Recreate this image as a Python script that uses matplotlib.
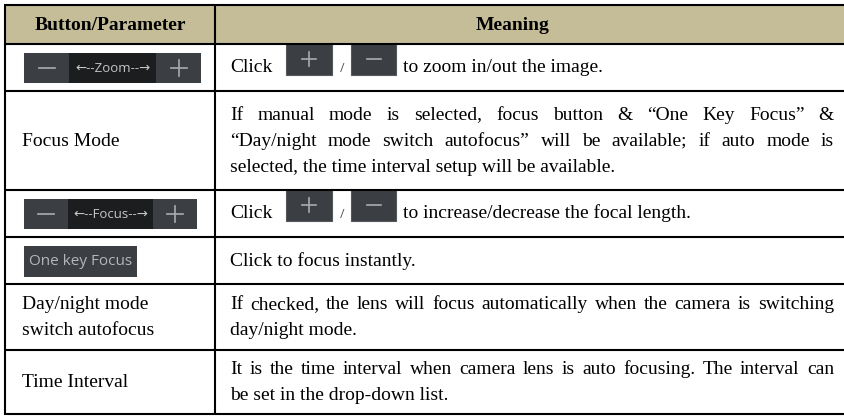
import matplotlib.pyplot as plt
from matplotlib.patches import Rectangle

# table content
headers = ["Button/Parameter", "Meaning"]
param_labels = [[], ["Focus Mode"], [], [], ["Day/night mode", "switch autofocus"], ["Time Interval"]]
widget_texts = ["\u2190--Zoom--\u2192", None, "\u2190--Focus--\u2192", "One key Focus", None, None]
click_rows = [True, False, True, False, False, False]
meaning_lines = [
    ["to zoom in/out the image."],
    ["If manual mode is selected, focus button & \u201cOne Key Focus\u201d &",
     "\u201cDay/night mode switch autofocus\u201d will be available; if auto mode is",
     "selected, the time interval setup will be available."],
    ["to increase/decrease the focal length."],
    ["Click to focus instantly."],
    ["If checked, the lens will focus automatically when the camera is switching",
     "day/night mode."],
    ["It is the time interval when camera lens is auto focusing. The interval can",
     "be set in the drop-down list."],
]

# layout (pixels)
W, H = 844, 416
row_edges = [5, 44, 91, 190, 237, 284, 350, 414]
x_left, x_mid = 5, 215
text_x0, text_x1 = 230, 834
line_gap = 26
header_fill = "#C4BD97"
dark = "#3B3F43"
darker = "#1C1D1F"
glyph = "#A9ADB1"

serif = dict(family="Liberation Serif", fontsize=14, color="black", va="baseline")
sans = ["Open Sans", "DejaVu Sans"]

fig = plt.figure(figsize=(W / 100, H / 100), dpi=100)
ax = fig.add_axes([0, 0, 1, 1])
ax.set_xlim(0, W)
ax.set_ylim(H, 0)
ax.axis("off")
renderer = fig.canvas.get_renderer()

# header background
ax.add_patch(Rectangle((x_left, row_edges[0]), W - x_left, row_edges[1] - row_edges[0],
                       facecolor=header_fill, edgecolor="none"))
ax.text(110, 30, headers[0], ha="center", fontweight="bold", **serif)
ax.text(513, 30, headers[1], ha="center", fontweight="bold", **serif)

# grid lines
for y in row_edges:
    ax.plot([x_left - 1, W], [y, y], color="black", lw=1.5, solid_capstyle="butt")
for x in (x_left, x_mid):
    ax.plot([x, x], [row_edges[0], row_edges[-1]], color="black", lw=1.5, solid_capstyle="butt")


def draw_plus(cx, cy, size=8, color=glyph):
    ax.plot([cx - size, cx + size], [cy, cy], color=color, lw=1.2)
    ax.plot([cx, cx], [cy - size, cy + size], color=color, lw=1.2)


def draw_minus(cx, cy, size=8, color=glyph):
    ax.plot([cx - size, cx + size], [cy, cy], color=color, lw=1.2)


def draw_widget(label, top, bottom, x0, x1, split):
    # split: width of the +/- side sections
    ax.add_patch(Rectangle((x0, top), x1 - x0, bottom - top, facecolor=dark, edgecolor="none"))
    ax.add_patch(Rectangle((x0 + split, top), x1 - x0 - 2 * split, bottom - top,
                           facecolor=darker, edgecolor="none"))
    cy = (top + bottom) / 2
    draw_minus(x0 + split / 2, cy)
    draw_plus(x1 - split / 2, cy)
    ax.text((x0 + x1) / 2, cy, label, ha="center", va="center", family=sans,
            fontsize=9.5, color="#C4C6C8")


def draw_small_buttons(baseline):
    top, bottom = baseline - 29, baseline + 2
    ax.add_patch(Rectangle((286, top), 46, bottom - top, facecolor=dark, edgecolor="#55595D", lw=0.8))
    draw_plus(309, (top + bottom) / 2, size=7)
    ax.text(342, baseline, "/", ha="center", family=sans, fontsize=9, color="#555555", va="baseline")
    ax.add_patch(Rectangle((351, top), 45, bottom - top, facecolor=dark, edgecolor="#55595D", lw=0.8))
    draw_minus(373.5, (top + bottom) / 2, size=7)


def draw_justified(text, y):
    words = text.split(" ")
    arts = [ax.text(0, y, w, **serif) for w in words]
    widths = [a.get_window_extent(renderer).width for a in arts]
    gap = (text_x1 - text_x0 - sum(widths)) / (len(words) - 1)
    x = text_x0
    for a, w in zip(arts, widths):
        a.set_x(x)
        x += w + gap


for i in range(len(meaning_lines)):
    top, bottom = row_edges[i + 1], row_edges[i + 2]
    mid = (top + bottom) / 2
    lines = meaning_lines[i]
    n = len(lines)
    baselines = [mid + 5 + (k - (n - 1) / 2) * line_gap for k in range(n)]

    # first column
    labels = param_labels[i]
    m = len(labels)
    for k, lab in enumerate(labels):
        ax.text(22, mid + 5 + (k - (m - 1) / 2) * line_gap, lab, ha="left", **serif)

    if widget_texts[i] is not None:
        if widget_texts[i] == "One key Focus":
            ax.add_patch(Rectangle((24, 246), 113, 31, facecolor=dark, edgecolor="none"))
            ax.text(80.5, 261.5, widget_texts[i], ha="center", va="center", family=sans,
                    fontsize=11, color="#B3B7BB")
        elif i == 0:
            draw_widget(widget_texts[i], 53, 83, 24, 201, 45)
        else:
            draw_widget(widget_texts[i], 199, 229, 24, 197, 44)

    # second column
    if click_rows[i]:
        ax.text(text_x0, baselines[0], "Click", ha="left", **serif)
        draw_small_buttons(baselines[0])
        ax.text(403, baselines[0], lines[0], ha="left", **serif)
        continue
    for k, line in enumerate(lines):
        if k < n - 1:
            draw_justified(line, baselines[k])
        else:
            ax.text(text_x0, baselines[k], line, ha="left", **serif)

fig.savefig("out.png", dpi=100)
